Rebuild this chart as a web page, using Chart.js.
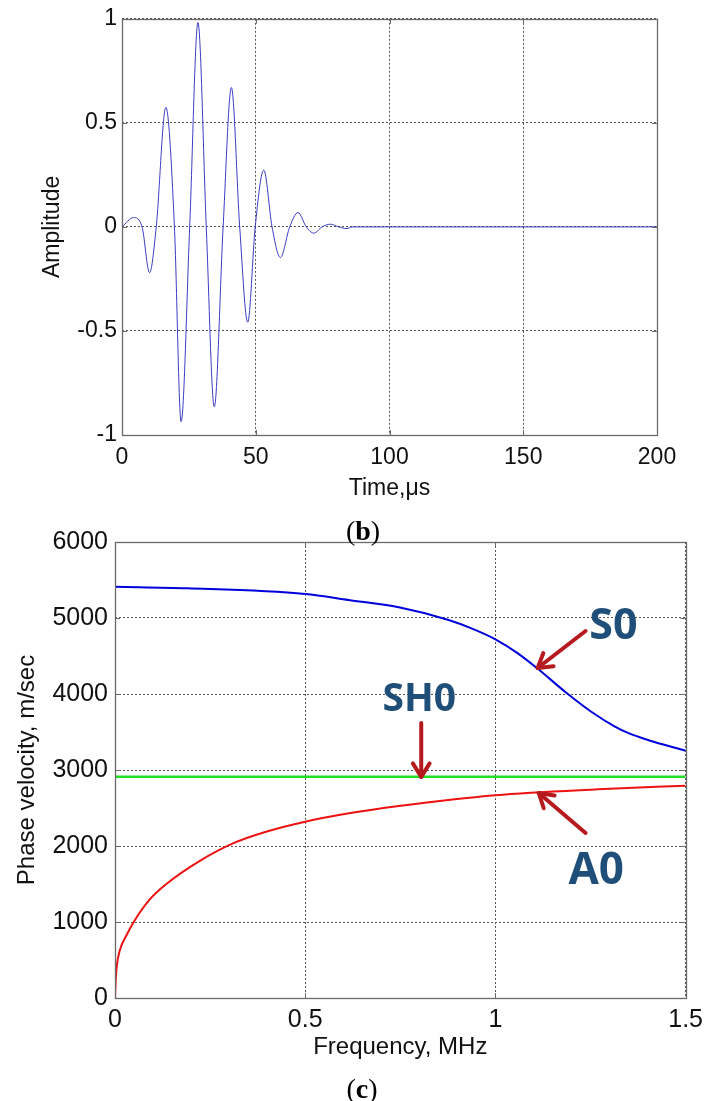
<!DOCTYPE html>
<html><head><meta charset="utf-8">
<script src="https://cdn.jsdelivr.net/npm/chart.js@4.4.1/dist/chart.umd.min.js"></script>
<style>
html,body{margin:0;padding:0;background:#fff;}
body{width:710px;height:1101px;position:relative;overflow:hidden;}
#w1{position:absolute;left:0;top:0;width:710px;height:520px;}
#w2{position:absolute;left:0;top:520px;width:710px;height:581px;}
.cap{position:absolute;font-family:"Liberation Serif","DejaVu Serif",serif;font-size:28px;color:#000;transform:translate(-50%,-50%);white-space:nowrap;z-index:2;line-height:1}
</style></head><body>
<div id="w1"><canvas id="c1"></canvas></div>
<div id="w2"><canvas id="c2"></canvas></div>
<div class="cap" style="left:363px;top:531px">(<b>b</b>)</div>
<div class="cap" style="left:362px;top:1089px">(<b>c</b>)</div>
<script>
// ---- Chart (b): excitation signal ----
const timeUs = [0, 4.3, 7.5, 10.3, 12.8, 16.4, 19.6, 22.1, 25.3, 28.4, 31.5, 34.5, 37.8, 40.9, 44.0, 47.0, 49.8, 53.0, 56.1, 59.2, 62.7, 65.8, 68.9, 71.7, 74.8, 77.9, 81.0, 84.1, 86.0, 200];
const amplitude = [0, 0.045, 0, -0.22, 0, 0.574, 0, -0.936, 0, 0.982, 0, -0.865, 0, 0.67, 0, -0.458, 0, 0.273, 0, -0.147, 0, 0.069, 0, -0.03, 0, 0.013, 0, -0.008, 0, 0];
const timeTicks = [0, 50, 100, 150, 200];
const timeTickLabels = ['0', '50', '100', '150', '200'];
const ampTicks = [-1, -0.5, 0, 0.5, 1];
const ampTickLabels = ['-1', '-0.5', '0', '0.5', '1'];

// ---- Chart (c): dispersion curves ----
const s0Freq = [0, 0.19, 0.5, 0.614, 0.746, 0.877, 0.937, 1.0, 1.059, 1.113, 1.183, 1.252, 1.313, 1.35, 1.401, 1.5];
const s0Vel  = [5410, 5390, 5316, 5237, 5141, 4974, 4864, 4720, 4535, 4325, 4030, 3767, 3575, 3485, 3395, 3254];
const sh0Freq = [0, 1.5];
const sh0Vel  = [2910, 2910];
const a0Freq = [0, 0.002, 0.0044, 0.013, 0.0306, 0.048, 0.092, 0.135, 0.223, 0.31, 0.397, 0.5, 0.615, 0.746, 1.0, 1.27, 1.5];
const a0Vel  = [0, 250, 412, 632, 829, 991, 1300, 1500, 1805, 2035, 2188, 2320, 2430, 2526, 2668, 2746, 2793];
const freqTicks = [0, 0.5, 1, 1.5];
const freqTickLabels = ['0', '0.5', '1', '1.5'];
const velTicks = [0, 1000, 2000, 3000, 4000, 5000, 6000];
const velTickLabels = ['0', '1000', '2000', '3000', '4000', '5000', '6000'];
const modeLabels = ['S0', 'SH0', 'A0'];

const F = '"Liberation Sans", Arial, sans-serif';
const pts = (xs, ys) => xs.map((x, i) => ({x: x, y: ys[i]}));

const framePlugin = {
  id: 'frame',
  afterDatasetsDraw(chart) {
    const a = chart.chartArea, ctx = chart.ctx;
    ctx.save();
    ctx.strokeStyle = '#6a6a6a';
    ctx.lineWidth = 1.3;
    ctx.strokeRect(Math.round(a.left) + 0.5, Math.round(a.top) + 0.5, Math.round(a.right - a.left), Math.round(a.bottom - a.top));
    ctx.lineWidth = 1;
    const L = 5;
    chart.scales.x.ticks.forEach(t => {
      const px = Math.round(chart.scales.x.getPixelForValue(t.value)) + 0.5;
      ctx.beginPath(); ctx.moveTo(px, a.bottom); ctx.lineTo(px, a.bottom - L);
      ctx.moveTo(px, a.top); ctx.lineTo(px, a.top + L); ctx.stroke();
    });
    chart.scales.y.ticks.forEach(t => {
      const py = Math.round(chart.scales.y.getPixelForValue(t.value)) + 0.5;
      ctx.beginPath(); ctx.moveTo(a.left, py); ctx.lineTo(a.left + L, py);
      ctx.moveTo(a.right, py); ctx.lineTo(a.right - L, py); ctx.stroke();
    });
    ctx.restore();
  }
};

const annoPlugin = {
  id: 'anno',
  afterDraw(chart, args, opts) {
    if (!opts || !opts.items) return;
    const ctx = chart.ctx, xs = chart.scales.x, ys = chart.scales.y;
    ctx.save();
    opts.items.forEach(it => {
      const tx = xs.getPixelForValue(it.text[0]), ty = ys.getPixelForValue(it.text[1]);
      ctx.fillStyle = '#1f4e79';
      ctx.font = 'bold ' + it.size + 'px "Open Sans", "Noto Sans", sans-serif';
      ctx.textAlign = 'center'; ctx.textBaseline = 'middle';
      ctx.fillText(it.label, tx, ty);
      const x0 = xs.getPixelForValue(it.from[0]), y0 = ys.getPixelForValue(it.from[1]);
      const x1 = xs.getPixelForValue(it.to[0]), y1 = ys.getPixelForValue(it.to[1]);
      ctx.strokeStyle = '#b51a1e'; ctx.lineWidth = 4; ctx.lineCap = 'round'; ctx.lineJoin = 'round';
      ctx.beginPath(); ctx.moveTo(x0, y0); ctx.lineTo(x1, y1); ctx.stroke();
      const ang = Math.atan2(y1 - y0, x1 - x0), h = 16, sp = 0.55;
      ctx.beginPath();
      ctx.moveTo(x1 - h * Math.cos(ang - sp), y1 - h * Math.sin(ang - sp));
      ctx.lineTo(x1, y1);
      ctx.lineTo(x1 - h * Math.cos(ang + sp), y1 - h * Math.sin(ang + sp));
      ctx.stroke();
    });
    ctx.restore();
  }
};

function axis(opts) {
  return {
    type: 'linear', min: opts.min, max: opts.max,
    afterBuildTicks: s => { s.ticks = opts.ticks.map(v => ({value: v})); },
    afterFit: s => { if (opts.width !== undefined) s.width = opts.width; if (opts.height !== undefined) s.height = opts.height; },
    ticks: {
      font: {family: F, size: opts.fs}, color: '#111', padding: opts.pad,
      maxRotation: 0, autoSkip: false,
      callback: (v, i) => opts.labels[i]
    },
    grid: {color: '#555', lineWidth: 1, drawTicks: false},
    border: {display: false, dash: [2, 2]},
    title: {display: true, text: opts.title, color: '#111', font: {family: F, size: opts.tfs}, padding: opts.tpad}
  };
}

Chart.register(framePlugin, annoPlugin);

new Chart(document.getElementById('c1'), {
  type: 'line',
  data: {datasets: [{data: pts(timeUs, amplitude), borderColor: '#3c3cc4', borderWidth: 1, pointRadius: 0, cubicInterpolationMode: 'monotone', fill: false}]},
  options: {
    responsive: true, maintainAspectRatio: false, animation: false,
    layout: {padding: {left: 0, top: 18, right: 53, bottom: 0}},
    plugins: {legend: {display: false}, tooltip: {enabled: false}},
    scales: {
      x: axis({min: 0, max: 200, ticks: timeTicks, labels: timeTickLabels, fs: 23, pad: 9, height: 85, title: 'Time,\u03bcs', tfs: 23, tpad: {top: 0, bottom: 18}}),
      y: axis({min: -1, max: 1, ticks: ampTicks, labels: ampTickLabels, fs: 23, pad: 5, width: 122, title: 'Amplitude', tfs: 23, tpad: {top: 39, bottom: 0}})
    }
  }
});

new Chart(document.getElementById('c2'), {
  type: 'line',
  data: {datasets: [
    {label: 'SH0', data: pts(sh0Freq, sh0Vel), borderColor: '#22e022', borderWidth: 2.5, pointRadius: 0, fill: false},
    {label: 'S0', data: pts(s0Freq, s0Vel), borderColor: '#0000dd', borderWidth: 2, pointRadius: 0, cubicInterpolationMode: 'monotone', fill: false},
    {label: 'A0', data: pts(a0Freq, a0Vel), borderColor: '#ee1111', borderWidth: 2, pointRadius: 0, cubicInterpolationMode: 'monotone', fill: false}
  ]},
  options: {
    responsive: true, maintainAspectRatio: false, animation: false,
    layout: {padding: {left: 0, top: 22, right: 21, bottom: 0}},
    plugins: {
      legend: {display: false}, tooltip: {enabled: false},
      anno: {items: [
        {label: modeLabels[0], size: 43, text: [1.31, 4882], from: [1.237, 4829], to: [1.111, 4342]},
        {label: modeLabels[1], size: 39, text: [0.800, 3925], from: [0.805, 3618], to: [0.805, 2908]},
        {label: modeLabels[2], size: 44, text: [1.265, 1671], from: [1.237, 2171], to: [1.114, 2697]}
      ]}
    },
    scales: {
      x: axis({min: 0, max: 1.5, ticks: freqTicks, labels: freqTickLabels, fs: 25, pad: 7, height: 103, title: 'Frequency, MHz', tfs: 24, tpad: {top: 0, bottom: 39}}),
      y: axis({min: 0, max: 6000, ticks: velTicks, labels: velTickLabels, fs: 25, pad: 7, width: 115, title: 'Phase velocity, m/sec', tfs: 24, tpad: {top: 13, bottom: 0}})
    }
  }
});
</script>
</body></html>
